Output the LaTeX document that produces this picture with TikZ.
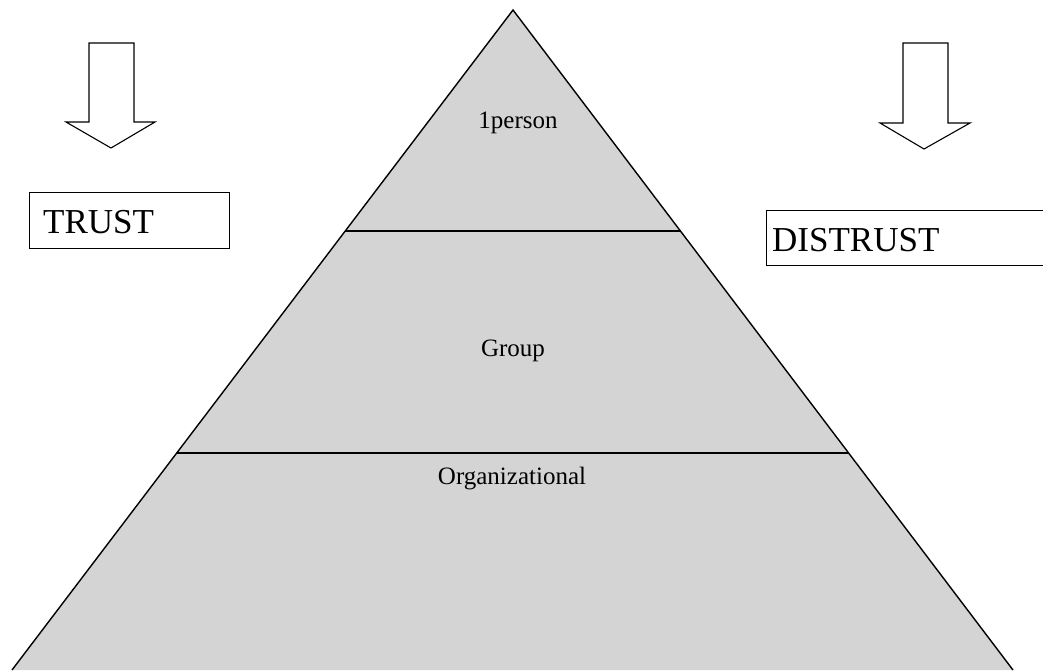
\documentclass[tikz,border=0pt]{standalone}
\usepackage{fontspec}
\setmainfont{Liberation Serif}
\begin{document}
\begin{tikzpicture}[x=1pt,y=-1pt,
  outline/.style={draw=black,line width=1.4pt,line join=miter},
  divider/.style={draw=black,line width=2pt},
  downarrow/.style={draw=black,line width=1.1pt,fill=white,line join=miter},
  labelbox/.style={draw=black,line width=1pt,fill=white},
  lvl/.style={font=\fontsize{25}{28}\selectfont,inner sep=0pt},
  big/.style={font=\fontsize{35}{40}\selectfont,inner sep=0pt,anchor=base west}]
\useasboundingbox (0,0) rectangle (1043,670);
\begin{scope}
\clip (0,0) rectangle (1043,670);
% pyramid
\coordinate (apex) at (513,10);
\coordinate (bl) at (12,670);
\coordinate (br) at (1013,670);
\fill[black!17] (apex) -- (br) -- (bl) -- cycle;
\draw[outline] (bl) -- (apex) -- (br);
\coordinate (d1l) at (345,231);
\coordinate (d1r) at (681,231);
\coordinate (d2l) at (177,453);
\coordinate (d2r) at (849,453);
\draw[divider] (d1l) -- (d1r);
\draw[divider] (d2l) -- (d2r);
\node[lvl] (person) at (518,123) {1person};
\node[lvl] (group) at (513,351) {Group};
\node[lvl] (org) at (512,479) {Organizational};
% arrows
\draw[downarrow] (89,43) -- (134,43) -- (134,122) -- (155,122) -- (111,148) -- (66,122) -- (89,122) -- cycle;
\draw[downarrow] (903,43) -- (948,43) -- (948,123) -- (970,123) -- (924,149) -- (880,123) -- (903,123) -- cycle;
% boxes
\draw[labelbox] (29,192) rectangle (229,248);
\node[big] (trust) at (43,233) {TRUST};
\draw[labelbox] (766,210) rectangle (1060,265);
\node[big] (distrust) at (772,251) {DISTRUST};
\end{scope}
\end{tikzpicture}
\end{document}
